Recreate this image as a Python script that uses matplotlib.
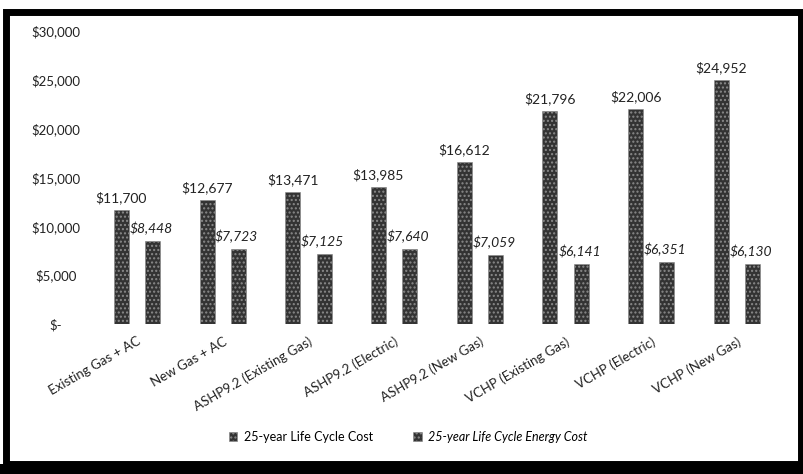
import matplotlib
matplotlib.use("Agg")
import matplotlib.pyplot as plt
from matplotlib.patches import Rectangle
import numpy as np

plt.rcParams['font.family'] = ['Lato', 'DejaVu Sans']

categories = ["Existing Gas + AC", "New Gas + AC", "ASHP9.2 (Existing Gas)",
              "ASHP9.2 (Electric)", "ASHP9.2 (New Gas)", "VCHP (Existing Gas)",
              "VCHP (Electric)", "VCHP (New Gas)"]
life_cycle_cost = [11700, 12677, 13471, 13985, 16612, 21796, 22006, 24952]
energy_cost = [8448, 7723, 7125, 7640, 7059, 6141, 6351, 6130]
series_names = ["25-year Life Cycle Cost", "25-year Life Cycle Energy Cost"]
y_ticks = [0, 5000, 10000, 15000, 20000, 25000, 30000]
y_tick_labels = ["$-", "$5,000", "$10,000", "$15,000", "$20,000", "$25,000", "$30,000"]

W, H = 804, 474
fig = plt.figure(figsize=(W / 100, H / 100), dpi=100)
fig.patch.set_facecolor("white")

# axes placed in pixel terms
left, right, bottom, top = 95, 785, 324, 31
ax = fig.add_axes([left / W, 1 - bottom / H, (right - left) / W, (bottom - top) / H])

x = np.arange(len(categories))
off = 0.183
bw = 0.175
b1 = ax.bar(x - off, life_cycle_cost, bw, color="#333333", edgecolor="#8a8a8a",
            hatch="....", linewidth=0.4, label=series_names[0])
b2 = ax.bar(x + off, energy_cost, bw, color="#333333", edgecolor="#8a8a8a",
            hatch="....", linewidth=0.4, label=series_names[1])

for xi, v in zip(x, life_cycle_cost):
    ax.text(xi - off, v + 600, f"${v:,}", ha="center", va="bottom",
            fontsize=10, color="#222222")
for xi, v in zip(x, energy_cost):
    ax.text(xi + off - 0.02, v + 600, f"${v:,}", ha="center", va="bottom",
            fontsize=10, style="italic", color="#222222")

ax.set_xlim(-0.49, 7.56)
ax.set_ylim(0, 30000)
ax.set_yticks(y_ticks)
ax.set_yticklabels(y_tick_labels, fontsize=9.5, color="#222222")
for lab in ax.get_yticklabels():
    lab.set_horizontalalignment("center")
ax.tick_params(axis="y", length=0, pad=28)

ax.set_xticks(x)
ax.set_xticklabels(categories, rotation=30, ha="right", rotation_mode="anchor",
                   fontsize=9.5, color="#222222")
ax.tick_params(axis="x", length=0, pad=8)

for s in ax.spines.values():
    s.set_visible(False)

leg = fig.legend(handles=[b1, b2], labels=series_names, loc="center",
                 bbox_to_anchor=(408 / W, 1 - 437 / H), ncol=2, frameon=False,
                 fontsize=9, handlelength=0.7, handleheight=0.7,
                 columnspacing=3.2, handletextpad=0.5)
leg.get_texts()[1].set_style("italic")

# scanned black frame
fig.patches.append(Rectangle((6 / W, 1 - 464 / H), 795 / W, 452 / H,
                             transform=fig.transFigure, fill=False,
                             edgecolor="black", linewidth=5))
fig.patches.append(Rectangle((0, 0), 1, 10 / H, transform=fig.transFigure,
                             facecolor="black", edgecolor="none"))

fig.savefig("out.png", dpi=100)
